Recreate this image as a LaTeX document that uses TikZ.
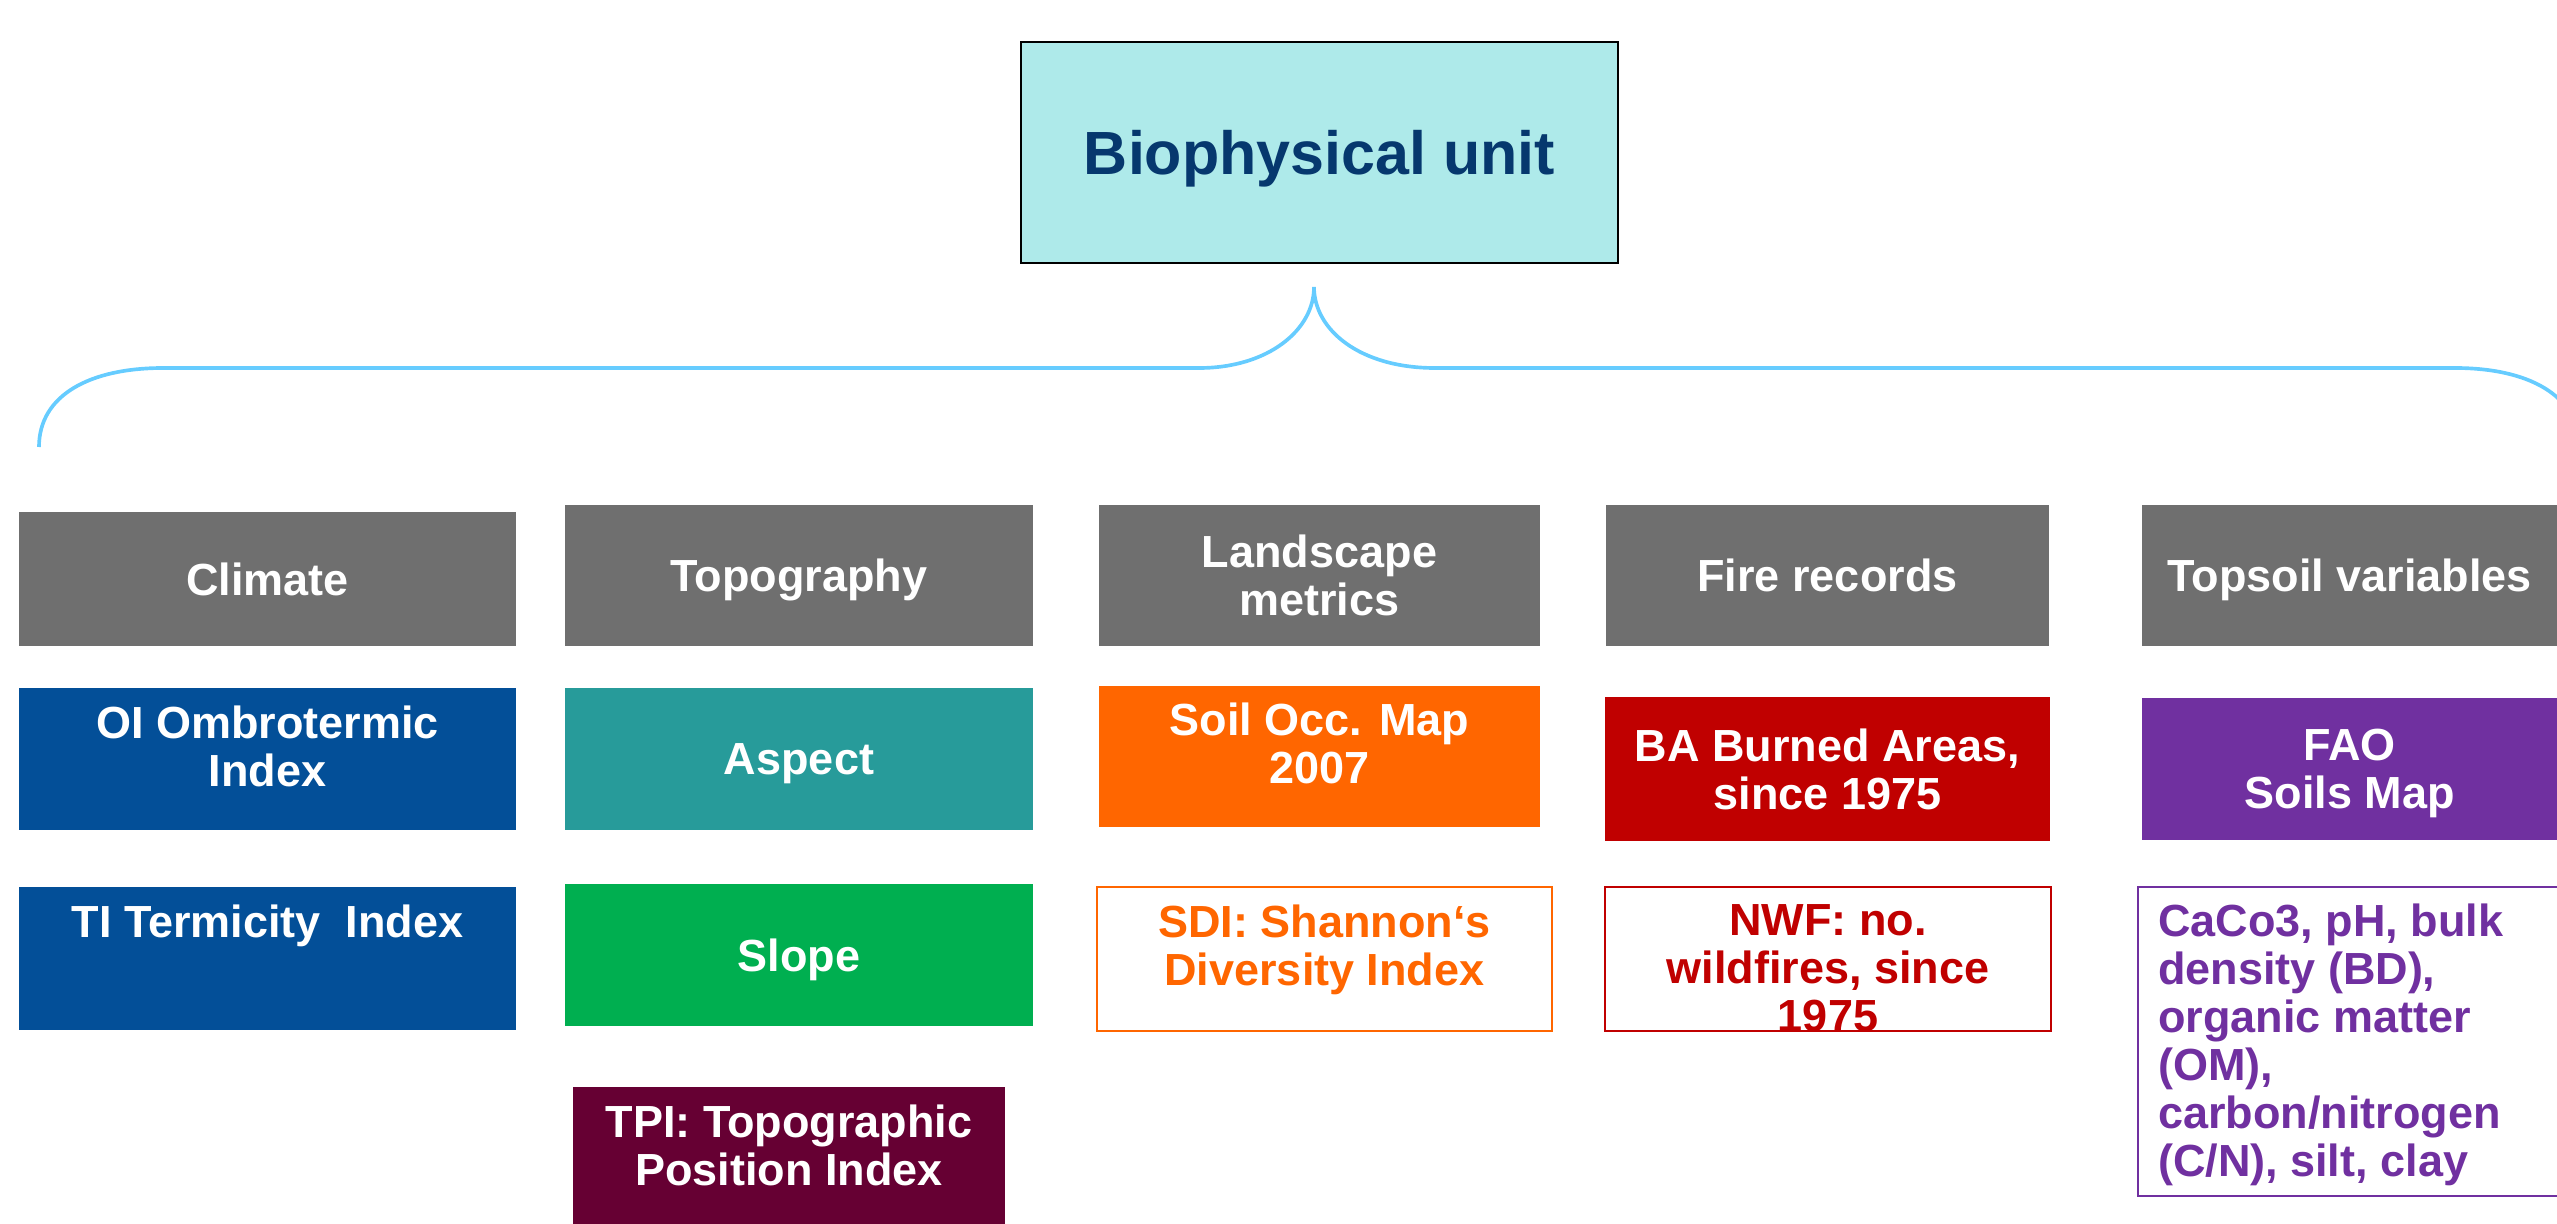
\documentclass[tikz,border=0pt]{standalone}
\usepackage{fontspec}
\setmainfont{Liberation Sans}
\usetikzlibrary{calc}
\definecolor{topfill}{HTML}{AEEAEA}
\definecolor{toptext}{HTML}{06386E}
\definecolor{bracec}{HTML}{66CCFF}
\definecolor{hdr}{HTML}{6F6F6F}
\definecolor{cblue}{HTML}{034F98}
\definecolor{cteal}{HTML}{279B9A}
\definecolor{cgreen}{HTML}{00AF50}
\definecolor{corange}{HTML}{FF6600}
\definecolor{cred}{HTML}{C00000}
\definecolor{cpurple}{HTML}{7030A0}
\definecolor{cmaroon}{HTML}{660033}
\tikzset{
  blk/.style={rectangle, inner sep=0pt, outer sep=0pt, align=center, text depth=0pt,
    font=\bfseries\fontsize{13.5}{14.4}\selectfont},
  lbl/.style={inner sep=0pt, outer sep=0pt, align=center,
    font=\bfseries\fontsize{13.5}{14.4}\selectfont},
  hdrbox/.style={blk, fill=hdr, text=white},
  brc/.style={draw=bracec, line width=1.1pt},
}
\newcommand\mybx[7]{%
  \node[blk,#6,minimum width={(#4-#2)*0.3pt},minimum height={(#5-#3)*0.3pt}]
    (#1) at ({(#2+#4)/2},{(#3+#5)/2}) {#7};}
\begin{document}
\begin{tikzpicture}[x=0.3pt,y=-0.3pt]
\useasboundingbox (0,0) rectangle (2557,1224);
% title
\mybx{top}{1021}{42}{1618}{263}{fill=topfill, draw=black, line width=0.8pt, text=toptext, font=\bfseries\fontsize{18.3}{20}\selectfont}{Biophysical unit}
% brace
\coordinate (bl) at (39,447);
\coordinate (tip) at (1314,287);
\coordinate (br) at (2579,447);
\draw[brc] (bl) .. controls (39,395) and (90,368) .. (163,368) -- (1199,368)
  .. controls (1268,368) and (1314,330) .. (tip)
  .. controls (1314,330) and (1360,368) .. (1435,368) -- (2455,368)
  .. controls (2528,368) and (2579,395) .. (br);
% headers
\mybx{clim}{19}{512}{516}{646}{hdrbox}{Climate}
\mybx{topo}{565}{505}{1033}{646}{hdrbox}{Topography}
\mybx{land}{1099}{505}{1540}{646}{hdrbox}{Landscape\\metrics}
\mybx{fire}{1606}{505}{2049}{646}{hdrbox}{Fire records}
\mybx{soil}{2142}{505}{2557}{646}{hdrbox}{Topsoil variables}
% row 2
\mybx{oi}{19}{688}{516}{830}{fill=cblue}{}
\node[lbl, text=white, anchor=north] (oit) at ($(oi.north)+(0,18)$) {OI Ombrotermic\\Index};
\mybx{asp}{565}{688}{1033}{830}{fill=cteal, text=white}{Aspect}
\mybx{occ}{1099}{686}{1540}{827}{fill=corange}{}
\node[lbl, text=white, anchor=north] (occt) at ($(occ.north)+(0,17)$) {Soil Occ. Map\\2007};
\mybx{ba}{1605}{697}{2050}{841}{fill=cred, text=white}{BA Burned Areas,\\since 1975}
\mybx{fao}{2142}{698}{2557}{840}{fill=cpurple, text=white}{FAO\\Soils Map}
% row 3
\mybx{ti}{19}{887}{516}{1030}{fill=cblue}{}
\node[lbl, text=white, anchor=north] (tit) at ($(ti.north)+(0,18)$) {TI Termicity\ \ Index};
\mybx{slope}{565}{884}{1033}{1026}{fill=cgreen, text=white}{Slope}
\mybx{sdi}{1097}{887}{1552}{1031}{fill=white, draw=corange, line width=0.6pt}{}
\node[lbl, text=corange, anchor=north] (sdit) at ($(sdi.north)+(0,18)$) {SDI: Shannon‘s\\Diversity Index};
\mybx{nwf}{1605}{887}{2051}{1031}{fill=white, draw=cred, line width=0.6pt}{}
\node[lbl, text=cred, anchor=north] (nwft) at ($(nwf.north)+(0,18)$) {NWF: no.\\wildfires, since\\1975};
\mybx{cc}{2138}{887}{2575}{1196}{fill=white, draw=cpurple, line width=0.6pt}{}
\node[lbl, text=cpurple, align=left, anchor=north west] (cct) at ($(cc.north west)+(20,17)$) {CaCo3, pH, bulk\\density (BD),\\organic matter\\(OM),\\carbon/nitrogen\\(C/N), silt, clay};
% row 4
\mybx{tpi}{573}{1087}{1005}{1240}{fill=cmaroon}{}
\node[lbl, text=white, anchor=north] (tpit) at ($(tpi.north)+(0,18)$) {TPI: Topographic\\Position Index};
\end{tikzpicture}
\end{document}
